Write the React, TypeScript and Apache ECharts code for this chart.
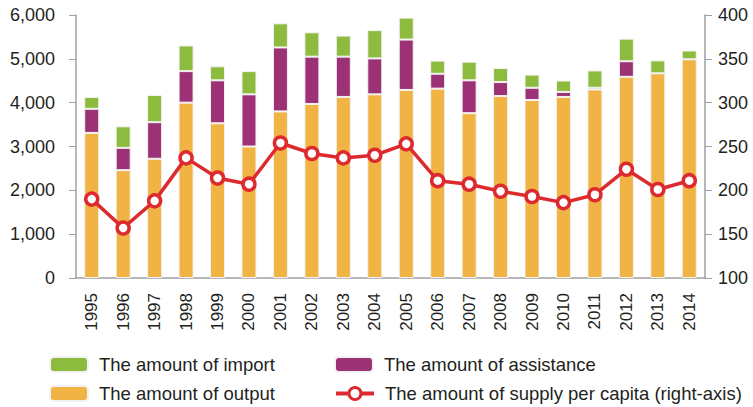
import React, { useEffect, useRef } from "react";
import * as echarts from "echarts";

const years = ["1995","1996","1997","1998","1999","2000","2001","2002","2003","2004","2005","2006","2007","2008","2009","2010","2011","2012","2013","2014"];
const outputAmt = [3310,2460,2720,4000,3530,3000,3800,3970,4130,4190,4290,4320,3760,4150,4060,4130,4300,4590,4670,4990];
const assistanceAmt = [550,510,835,720,980,1190,1460,1080,920,820,1150,340,750,320,280,115,40,355,0,0];
const importAmt = [270,490,620,585,320,530,550,555,480,645,500,300,425,320,300,260,395,515,295,200];
const supplyPerCapita = [190,157,188,237,214,207,254,242,237,240,253,211,207,199,193,186,195,224,201,211];

const leftTicks = [0, 6000, 1000];
const rightTicks = [100, 400, 50];

const legendNames = [
  "The amount of import",
  "The amount of output",
  "The amount of assistance",
  "The amount of supply per capita (right-axis)",
];

const FONT = "'Liberation Sans', Arial, sans-serif";
const TXT = "#231f20";
const RED = "#dc2a2e";

export default function App() {
  const ref = useRef<HTMLDivElement>(null);
  useEffect(() => {
    if (!ref.current) return;
    const chart = echarts.init(ref.current, undefined, { renderer: "svg" });
    const barBase = {
      type: "bar" as const,
      stack: "total",
      barWidth: 15,
      itemStyle: { borderColor: "#f2f2f2", borderWidth: 1 },
    };
    const legendPos = [
      { left: 49, top: 355 },
      { left: 49, top: 384 },
      { left: 334, top: 355 },
      { left: 334, top: 384 },
    ];
    chart.setOption({
      animation: false,
      textStyle: { fontFamily: FONT },
      grid: { left: 76, right: 48, top: 15, bottom: 129, containLabel: false },
      legend: legendNames.map((n, i) => ({
        data: [n],
        left: legendPos[i].left,
        top: legendPos[i].top,
        padding: 0,
        itemWidth: 38,
        itemHeight: 15,
        ...(i === 3
          ? {
              lineStyle: { width: 4, color: RED },
              itemStyle: { color: "#ffffff", borderColor: RED, borderWidth: 3 },
            }
          : {}),
        textStyle: { fontFamily: FONT, fontSize: 18.5, color: TXT, padding: [0, 0, 0, 6] },
      })),
      xAxis: {
        type: "category",
        data: years,
        axisLine: { lineStyle: { color: "#a0a0a0", width: 1.5 } },
        axisTick: { show: false },
        axisLabel: { rotate: 90, fontSize: 17, color: TXT, margin: 15, fontFamily: FONT },
      },
      yAxis: [
        {
          type: "value",
          min: leftTicks[0],
          max: leftTicks[1],
          interval: leftTicks[2],
          axisLine: { show: true, lineStyle: { color: "#a0a0a0", width: 1.5 } },
          axisTick: { show: true, length: 7, lineStyle: { color: "#a0a0a0" } },
          splitLine: { show: false },
          axisLabel: {
            fontSize: 18,
            color: TXT,
            margin: 21,
            formatter: (v: number) => v.toLocaleString("en-US"),
          },
        },
        {
          type: "value",
          min: rightTicks[0],
          max: rightTicks[1],
          interval: rightTicks[2],
          position: "right",
          axisLine: { show: true, lineStyle: { color: "#a0a0a0", width: 1.5 } },
          axisTick: { show: true, length: 7, lineStyle: { color: "#a0a0a0" } },
          splitLine: { show: false },
          axisLabel: { fontSize: 18, color: TXT, margin: 13 },
        },
      ],
      series: [
        { ...barBase, name: "The amount of output", data: outputAmt, itemStyle: { ...barBase.itemStyle, color: "#f1b343" } },
        { ...barBase, name: "The amount of assistance", data: assistanceAmt, itemStyle: { ...barBase.itemStyle, color: "#9c3275" } },
        { ...barBase, name: "The amount of import", data: importAmt, itemStyle: { ...barBase.itemStyle, color: "#8dbb3e" } },
        {
          type: "line",
          name: "The amount of supply per capita (right-axis)",
          yAxisIndex: 1,
          data: supplyPerCapita,
          symbol: "circle",
          symbolSize: 12,
          lineStyle: { color: RED, width: 3.5 },
          itemStyle: { color: "#ffffff", borderColor: RED, borderWidth: 3.5 },
          z: 5,
        },
      ],
    });
    return () => chart.dispose();
  }, []);
  return <div ref={ref} style={{ width: 753, height: 407, position: "absolute", left: 0, top: 0 }} />;
}
